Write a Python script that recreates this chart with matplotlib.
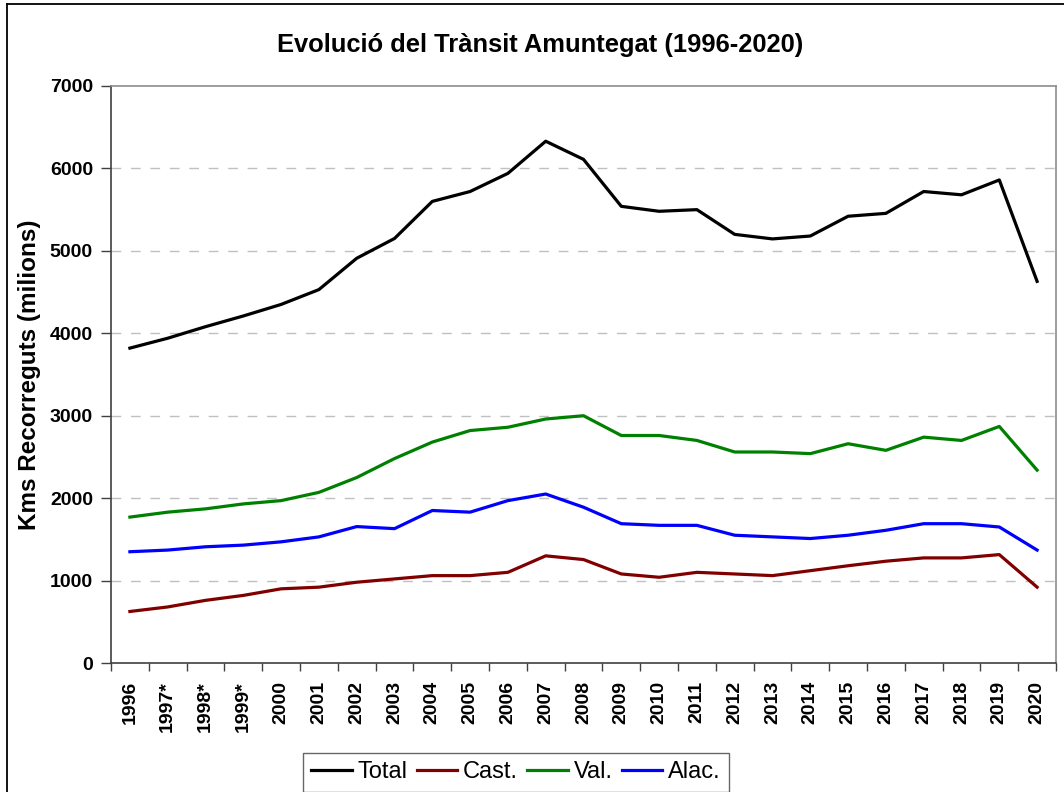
import matplotlib
matplotlib.use("Agg")
import matplotlib.pyplot as plt
from matplotlib.lines import Line2D
import numpy as np

years = ["1996", "1997*", "1998*", "1999*", "2000", "2001", "2002", "2003", "2004",
         "2005", "2006", "2007", "2008", "2009", "2010", "2011", "2012", "2013",
         "2014", "2015", "2016", "2017", "2018", "2019", "2020"]
total = [3820, 3940, 4080, 4210, 4350, 4530, 4910, 5150, 5600, 5720, 5940, 6330,
         6110, 5540, 5480, 5500, 5200, 5145, 5180, 5420, 5455, 5720, 5680, 5860, 4630]
cast = [625, 680, 760, 820, 900, 920, 980, 1020, 1060, 1060, 1100, 1300,
        1255, 1080, 1040, 1100, 1080, 1060, 1120, 1180, 1235, 1275, 1275, 1315, 920]
val = [1770, 1830, 1870, 1930, 1970, 2070, 2250, 2480, 2680, 2820, 2860, 2960,
       3000, 2760, 2760, 2700, 2560, 2560, 2540, 2660, 2580, 2740, 2700, 2870, 2340]
alac = [1350, 1370, 1410, 1430, 1470, 1530, 1655, 1630, 1850, 1830, 1970, 2050,
        1890, 1690, 1670, 1670, 1550, 1530, 1510, 1550, 1610, 1690, 1690, 1650, 1370]
series_names = ["Total", "Cast.", "Val.", "Alac."]
colors = ["#000000", "#800000", "#008000", "#0000FF"]
title = "Evolució del Trànsit Amuntegat (1996-2020)"
ylabel = "Kms Recorreguts (milions)"

plt.rcParams['font.family'] = ['Liberation Sans', 'DejaVu Sans']

W, H = 1064, 792
fig = plt.figure(figsize=(W / 100, H / 100), dpi=100)
fig.patch.set_facecolor("white")

left, right, top, bottom = 111, 1056, 86, 663
ax = fig.add_axes([left / W, 1 - bottom / H, (right - left) / W, (bottom - top) / H])

x = np.arange(len(years))
for data, c, name in zip([total, cast, val, alac], colors, series_names):
    ax.plot(x, data, color=c, lw=2.3, label=name, solid_joinstyle="round", zorder=3)

ax.set_xlim(-0.5, len(years) - 0.5)
ax.set_ylim(0, 7000)
ax.set_yticks(np.arange(0, 7001, 1000))
ax.set_yticklabels([str(v) for v in range(0, 7001, 1000)], fontsize=14, fontweight="bold")
for v in range(1000, 7000, 1000):
    ax.axhline(v, color="#c0c0c0", lw=1.0, ls=(0, (7, 7)), zorder=1)

ax.set_xticks(x)
ax.set_xticklabels(years, rotation=90, fontsize=14, fontweight="bold")
ax.tick_params(axis="x", which="major", length=0, pad=13)
ax.set_xticks(np.arange(-0.5, len(years), 1.0), minor=True)
ax.tick_params(axis="x", which="minor", length=6, width=1, color="#404040", direction="out")
ax.tick_params(axis="y", length=7, width=1, color="#404040", pad=6)

for s in ["left", "bottom"]:
    ax.spines[s].set_color("#404040")
    ax.spines[s].set_linewidth(1.2)
for s in ["top", "right"]:
    ax.spines[s].set_color("#8c8c8c")
    ax.spines[s].set_linewidth(1.2)

ax.set_ylabel(ylabel, fontsize=17.5, fontweight="bold", labelpad=6)

fig.text(540 / W, 1 - 45 / H, title, ha="center", va="center", fontsize=18.4, fontweight="bold")

# outer chart frame (left and top edges visible)
fig.add_artist(Line2D([7 / W, 7 / W], [0, 1 - 4 / H], transform=fig.transFigure,
                      color="black", lw=1.3))
fig.add_artist(Line2D([7 / W, 1], [1 - 4 / H, 1 - 4 / H], transform=fig.transFigure,
                      color="black", lw=1.3))

handles = [Line2D([], [], color=c, lw=2.3) for c in colors]
leg = fig.legend(handles, series_names, loc="upper center",
                 bbox_to_anchor=(516 / W, 1 - 753 / H), ncol=4, fontsize=17,
                 frameon=True, fancybox=False, handlelength=1.7, handletextpad=0.25,
                 columnspacing=0.4, borderpad=0.35, borderaxespad=0)
leg.get_frame().set_edgecolor("#404040")
leg.get_frame().set_linewidth(1.0)

fig.savefig("out.png", dpi=100, facecolor="white")
